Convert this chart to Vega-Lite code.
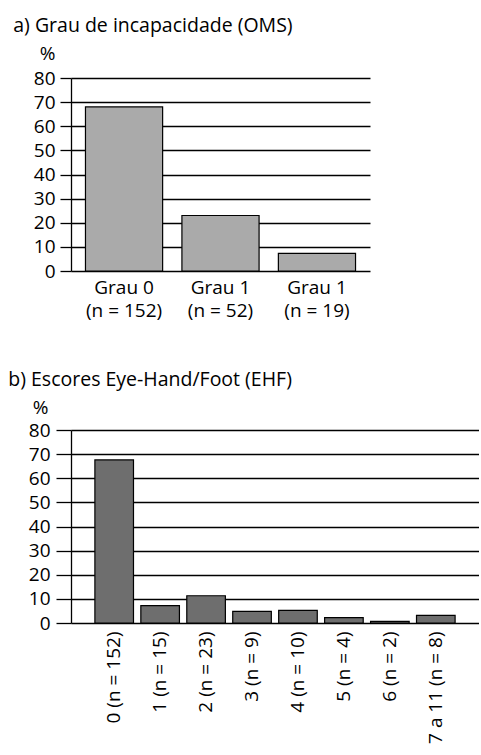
{
  "$schema": "https://vega.github.io/schema/vega-lite/v6.json",
  "background": "white",
  "padding": {"left": 8, "top": 15, "right": 0, "bottom": 0},
  "spacing": 49,
  "config": {
    "font": "Open Sans",
    "view": {"stroke": null},
    "title": {"font": "Open Sans", "fontSize": 19.5, "fontWeight": "normal", "color": "black", "anchor": "start", "frame": "bounds", "dx": -20},
    "axis": {
      "labelFont": "Open Sans", "labelFontSize": 19, "labelColor": "black",
      "titleFont": "Open Sans", "titleFontSize": 19, "titleFontWeight": "normal", "titleColor": "black",
      "domainColor": "black", "tickColor": "black", "gridColor": "black",
      "domainWidth": 1.3, "tickWidth": 1.3, "gridWidth": 1.3, "gridOpacity": 1
    }
  },
  "vconcat": [
    {
      "title": {"text": "a) Grau de incapacidade (OMS)", "offset": 8},
      "width": 299,
      "height": 193,
      "data": {"values": [
        {"grupo": "Grau 0|(n = 152)", "pct": 68},
        {"grupo": "Grau 1|(n = 52)", "pct": 23},
        {"grupo": "Grau 1|(n = 19)", "pct": 7.3}
      ]},
      "mark": {"type": "bar", "fill": "#aaaaaa", "stroke": "black", "strokeWidth": 1.2},
      "encoding": {
        "x": {
          "field": "grupo", "type": "nominal", "sort": null,
          "scale": {"paddingInner": 0.2, "paddingOuter": 0.15},
          "axis": {"title": null, "labelAngle": 0, "labelExpr": "split(datum.value, '|')", "ticks": false, "domain": false, "labelPadding": 7, "labelLineHeight": 23}
        },
        "y": {
          "field": "pct", "type": "quantitative",
          "scale": {"domain": [0, 80]},
          "axis": {"values": [0, 10, 20, 30, 40, 50, 60, 70, 80], "grid": true, "tickSize": 11, "labelPadding": 5,
                   "title": "%", "titleAngle": 0, "titleX": -24, "titleY": -25, "titleAlign": "center", "titleBaseline": "middle"}
        }
      }
    },
    {
      "title": {"text": "b) Escores Eye-Hand/Foot (EHF)", "offset": 8},
      "width": 408,
      "height": 193,
      "data": {"values": [
        {"escore": "0 (n = 152)", "pct": 67.6},
        {"escore": "1 (n = 15)", "pct": 7.2},
        {"escore": "2 (n = 23)", "pct": 11.3},
        {"escore": "3 (n = 9)", "pct": 4.8},
        {"escore": "4 (n = 10)", "pct": 5.2},
        {"escore": "5 (n = 4)", "pct": 2.2},
        {"escore": "6 (n = 2)", "pct": 0.7},
        {"escore": "7 a 11 (n = 8)", "pct": 3.2}
      ]},
      "mark": {"type": "bar", "fill": "#6e6e6e", "stroke": "black", "strokeWidth": 1.2},
      "encoding": {
        "x": {
          "field": "escore", "type": "nominal", "sort": null,
          "scale": {"paddingInner": 0.16, "paddingOuter": 0.52},
          "axis": {"title": null, "labelAngle": -90, "labelAlign": "right", "labelBaseline": "middle", "ticks": false, "domain": false, "labelPadding": 8}
        },
        "y": {
          "field": "pct", "type": "quantitative",
          "scale": {"domain": [0, 80]},
          "axis": {"values": [0, 10, 20, 30, 40, 50, 60, 70, 80], "grid": true, "tickSize": 15, "labelPadding": 6,
                   "title": "%", "titleAngle": 0, "titleX": -31, "titleY": -23, "titleAlign": "center", "titleBaseline": "middle"}
        }
      }
    }
  ]
}
